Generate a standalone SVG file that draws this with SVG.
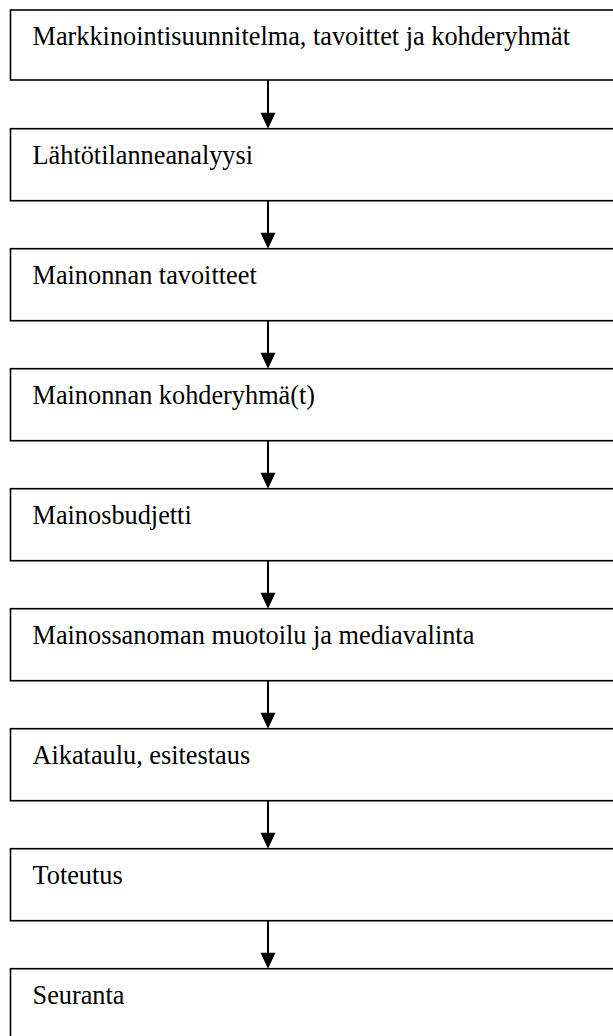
<svg xmlns="http://www.w3.org/2000/svg" width="613" height="1036" viewBox="0 0 613 1036">
<style>
.box{fill:#fff;stroke:#000;stroke-width:1.6}
.lbl{font-family:"Liberation Serif","Times New Roman",serif;font-size:26.3px;fill:#000}
.conn line{stroke:#000;stroke-width:2}
.conn polygon{fill:#000}
</style>
<rect width="613" height="1036" fill="#fff"/>
<g id="n1"><rect class="box" x="10.5" y="10" width="620" height="70"/><text class="lbl" x="32.5" y="45">Markkinointisuunnitelma, tavoittet ja kohderyhmät</text></g>
<g id="n2"><rect class="box" x="10.5" y="128.7" width="620" height="72"/><text class="lbl" x="32.5" y="164">Lähtötilanneanalyysi</text></g>
<g id="n3"><rect class="box" x="10.5" y="248.7" width="620" height="72"/><text class="lbl" x="32.5" y="284">Mainonnan tavoitteet</text></g>
<g id="n4"><rect class="box" x="10.5" y="368.7" width="620" height="72"/><text class="lbl" x="32.5" y="404">Mainonnan kohderyhmä(t)</text></g>
<g id="n5"><rect class="box" x="10.5" y="488.7" width="620" height="72"/><text class="lbl" x="32.5" y="524">Mainosbudjetti</text></g>
<g id="n6"><rect class="box" x="10.5" y="608.7" width="620" height="72"/><text class="lbl" x="32.5" y="644">Mainossanoman muotoilu ja mediavalinta</text></g>
<g id="n7"><rect class="box" x="10.5" y="728.7" width="620" height="72"/><text class="lbl" x="32.5" y="764">Aikataulu, esitestaus</text></g>
<g id="n8"><rect class="box" x="10.5" y="848.7" width="620" height="72"/><text class="lbl" x="32.5" y="884">Toteutus</text></g>
<g id="n9"><rect class="box" x="10.5" y="968.7" width="620" height="72"/><text class="lbl" x="32.5" y="1004">Seuranta</text></g>
<g id="connectors" class="conn">
<line x1="268" y1="80" x2="268" y2="115"/><polygon points="260.5,112.7 275.5,112.7 268,128.7"/>
<line x1="268" y1="200.7" x2="268" y2="235"/><polygon points="260.5,232.7 275.5,232.7 268,248.7"/>
<line x1="268" y1="320.7" x2="268" y2="355"/><polygon points="260.5,352.7 275.5,352.7 268,368.7"/>
<line x1="268" y1="440.7" x2="268" y2="475"/><polygon points="260.5,472.7 275.5,472.7 268,488.7"/>
<line x1="268" y1="560.7" x2="268" y2="595"/><polygon points="260.5,592.7 275.5,592.7 268,608.7"/>
<line x1="268" y1="680.7" x2="268" y2="715"/><polygon points="260.5,712.7 275.5,712.7 268,728.7"/>
<line x1="268" y1="800.7" x2="268" y2="835"/><polygon points="260.5,832.7 275.5,832.7 268,848.7"/>
<line x1="268" y1="920.7" x2="268" y2="955"/><polygon points="260.5,952.7 275.5,952.7 268,968.7"/>
</g>
</svg>
